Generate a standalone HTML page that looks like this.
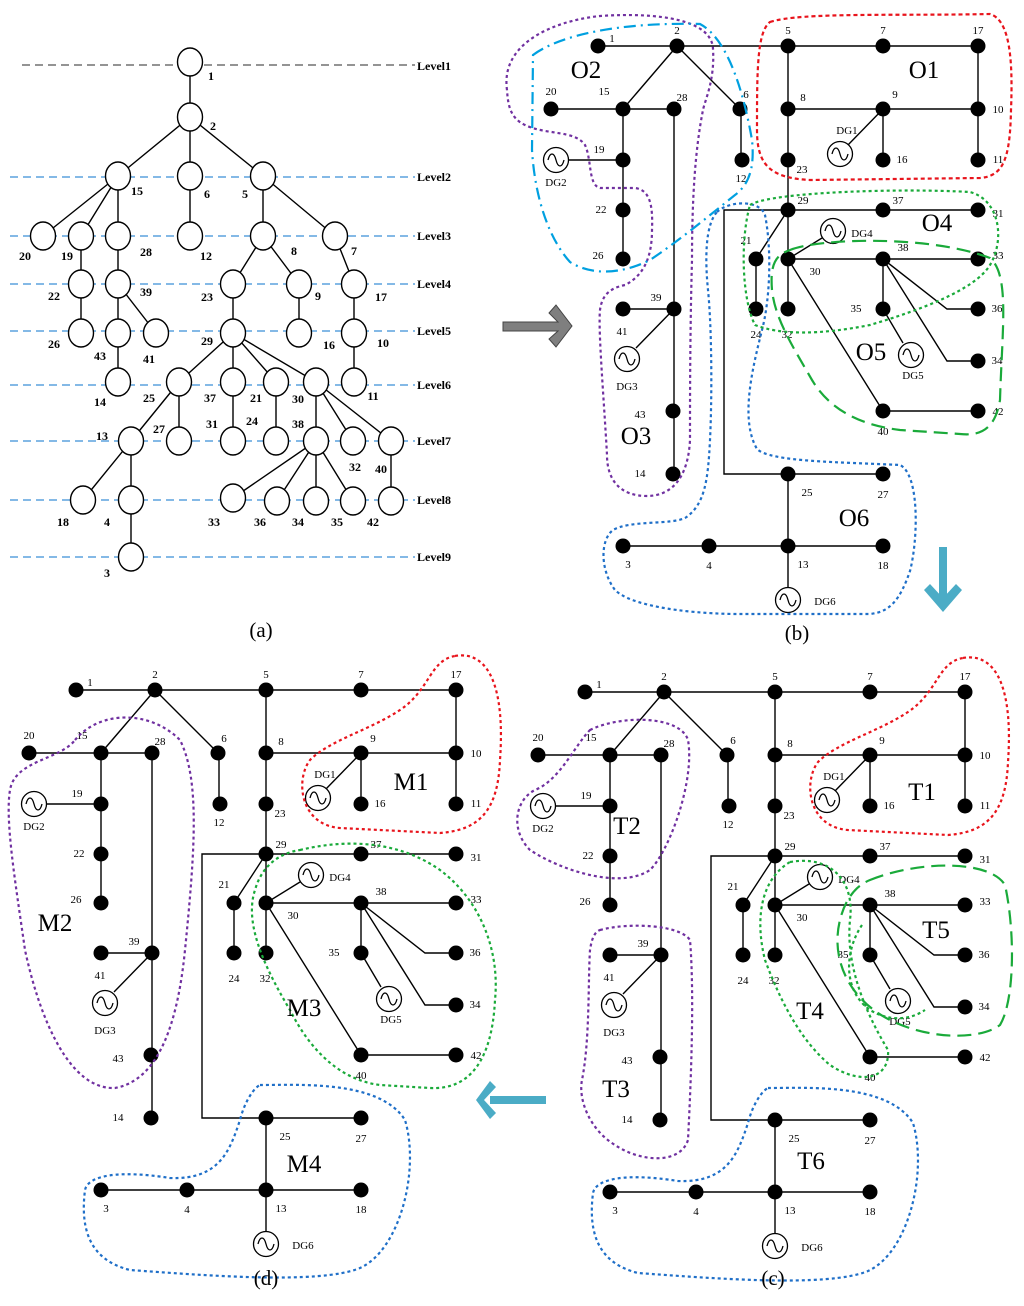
<!DOCTYPE html>
<html><head><meta charset="utf-8"><style>
html,body{margin:0;padding:0;background:#fff}
svg{display:block}
text{font-family:"Liberation Serif",serif}
</style></head><body>
<svg width="1024" height="1306" viewBox="0 0 1024 1306" xmlns="http://www.w3.org/2000/svg">
<defs>
<g id="dg"><circle r="12.5" fill="#fff" stroke="#000" stroke-width="1.3"/><path d="M-8,0 C-6,-8 -2,-8 0,0 C2,8 6,8 8,0" fill="none" stroke="#000" stroke-width="1.3"/></g>
<g id="net">
 <g stroke="#000" stroke-width="1.4" fill="none">
  <path d="M598,46H978 M677,46L623,109 M677,46L740,109 M551,109H674 M788,109H978 M788,46V309 M741,109V160 M978,46V160 M883,109V160 M883,109L847,146 M623,109V259 M569,160H623 M674,109V474 M623,309H674 M674,309L636,348 M788,210H978 M788,210H724V474H788 M788,210L756,259 M756,259V309 M788,259H978 M788,259L822,238 M883,259V309 M883,309L903,343 M883,259L947,309H978 M883,259L947,361H978 M788,259L883,411H978 M788,474H883 M788,474V588 M623,546H883"/>
 </g>
 <g fill="#000">
  <circle cx="598" cy="46" r="7.5"/><circle cx="677" cy="46" r="7.5"/><circle cx="788" cy="46" r="7.5"/><circle cx="883" cy="46" r="7.5"/><circle cx="978" cy="46" r="7.5"/>
  <circle cx="551" cy="109" r="7.5"/><circle cx="623" cy="109" r="7.5"/><circle cx="674" cy="109" r="7.5"/><circle cx="740" cy="109" r="7.5"/><circle cx="788" cy="109" r="7.5"/><circle cx="883" cy="109" r="7.5"/><circle cx="978" cy="109" r="7.5"/>
  <circle cx="623" cy="160" r="7.5"/><circle cx="742" cy="160" r="7.5"/><circle cx="788" cy="160" r="7.5"/><circle cx="883" cy="160" r="7.5"/><circle cx="978" cy="160" r="7.5"/>
  <circle cx="623" cy="210" r="7.5"/><circle cx="788" cy="210" r="7.5"/><circle cx="883" cy="210" r="7.5"/><circle cx="978" cy="210" r="7.5"/>
  <circle cx="623" cy="259" r="7.5"/><circle cx="756" cy="259" r="7.5"/><circle cx="788" cy="259" r="7.5"/><circle cx="883" cy="259" r="7.5"/><circle cx="978" cy="259" r="7.5"/>
  <circle cx="623" cy="309" r="7.5"/><circle cx="674" cy="309" r="7.5"/><circle cx="756" cy="309" r="7.5"/><circle cx="788" cy="309" r="7.5"/><circle cx="883" cy="309" r="7.5"/><circle cx="978" cy="309" r="7.5"/>
  <circle cx="978" cy="361" r="7.5"/><circle cx="673" cy="411" r="7.5"/><circle cx="883" cy="411" r="7.5"/><circle cx="978" cy="411" r="7.5"/>
  <circle cx="673" cy="474" r="7.5"/><circle cx="788" cy="474" r="7.5"/><circle cx="883" cy="474" r="7.5"/>
  <circle cx="623" cy="546" r="7.5"/><circle cx="709" cy="546" r="7.5"/><circle cx="788" cy="546" r="7.5"/><circle cx="883" cy="546" r="7.5"/>
 </g>
 <use href="#dg" x="556" y="160"/><use href="#dg" x="840" y="154"/><use href="#dg" x="833" y="231"/><use href="#dg" x="627" y="359"/><use href="#dg" x="911" y="355"/><use href="#dg" x="788" y="600"/>
 <g font-size="11" text-anchor="middle" fill="#000">
  <text x="612" y="42">1</text><text x="677" y="34">2</text><text x="788" y="34">5</text><text x="883" y="34">7</text><text x="978" y="34">17</text>
  <text x="551" y="95">20</text><text x="604" y="95">15</text><text x="682" y="101">28</text><text x="746" y="98">6</text><text x="803" y="101">8</text><text x="895" y="98">9</text><text x="998" y="113">10</text>
  <text x="599" y="153">19</text><text x="556" y="186">DG2</text><text x="741" y="182">12</text><text x="802" y="173">23</text><text x="847" y="134">DG1</text><text x="902" y="163">16</text><text x="998" y="163">11</text>
  <text x="601" y="213">22</text><text x="803" y="204">29</text><text x="898" y="204">37</text><text x="998" y="217">31</text>
  <text x="746" y="244">21</text><text x="862" y="237">DG4</text><text x="598" y="259">26</text><text x="815" y="275">30</text><text x="903" y="251">38</text><text x="998" y="259">33</text>
  <text x="656" y="301">39</text><text x="622" y="335">41</text><text x="756" y="338">24</text><text x="787" y="338">32</text><text x="856" y="312">35</text><text x="997" y="312">36</text>
  <text x="627" y="390">DG3</text><text x="913" y="379">DG5</text><text x="997" y="364">34</text>
  <text x="640" y="418">43</text><text x="883" y="435">40</text><text x="998" y="415">42</text>
  <text x="640" y="477">14</text><text x="807" y="496">25</text><text x="883" y="498">27</text>
  <text x="628" y="568">3</text><text x="709" y="569">4</text><text x="803" y="568">13</text><text x="883" y="569">18</text><text x="825" y="605">DG6</text>
 </g>
</g>
</defs>

<!-- Panel (a) -->
<g stroke-dasharray="8,5" stroke-width="1.3">
 <line x1="22" y1="65" x2="415" y2="65" stroke="#555"/>
 <g stroke="#3a8fd8">
 <line x1="10" y1="177" x2="415" y2="177"/><line x1="10" y1="236" x2="415" y2="236"/><line x1="10" y1="284" x2="415" y2="284"/><line x1="10" y1="331" x2="415" y2="331"/><line x1="10" y1="385" x2="415" y2="385"/><line x1="10" y1="441" x2="415" y2="441"/><line x1="10" y1="500" x2="415" y2="500"/><line x1="10" y1="557" x2="415" y2="557"/>
 </g>
</g>
<g font-size="12" font-weight="bold" fill="#000">
 <text x="417" y="70">Level1</text><text x="417" y="181">Level2</text><text x="417" y="240">Level3</text><text x="417" y="288">Level4</text><text x="417" y="335">Level5</text><text x="417" y="389">Level6</text><text x="417" y="445">Level7</text><text x="417" y="504">Level8</text><text x="417" y="561">Level9</text>
</g>
<path stroke="#000" stroke-width="1.4" fill="none" d="M190,62L190,117 M190,117L118,176 M190,117L190,176 M190,117L263,176 M118,176L43,236 M118,176L81,236 M118,176L118,236 M190,176L190,236 M263,176L263,236 M263,176L335,236 M81,236L81,333 M118,236L118,284 M118,284L118,382 M118,284L156,333 M263,236L233,284 M263,236L299,284 M335,236L354,284 M233,284L233,333 M299,284L299,333 M354,284L354,382 M233,333L179,382 M233,333L233,382 M233,333L276,382 M233,333L316,382 M179,382L131,441 M179,382L179,441 M233,382L233,441 M276,382L276,441 M316,382L316,441 M316,382L353,441 M316,382L391,441 M131,441L83,500 M131,441L131,557 M316,441L233,498 M316,441L277,501 M316,441L316,501 M316,441L353,501 M391,441L391,501"/>
<g fill="#fff" stroke="#000" stroke-width="1.4">
 <ellipse cx="190" cy="62" rx="12.5" ry="14"/><ellipse cx="190" cy="117" rx="12.5" ry="14"/>
 <ellipse cx="118" cy="176" rx="12.5" ry="14"/><ellipse cx="190" cy="176" rx="12.5" ry="14"/><ellipse cx="263" cy="176" rx="12.5" ry="14"/>
 <ellipse cx="43" cy="236" rx="12.5" ry="14"/><ellipse cx="81" cy="236" rx="12.5" ry="14"/><ellipse cx="118" cy="236" rx="12.5" ry="14"/><ellipse cx="190" cy="236" rx="12.5" ry="14"/><ellipse cx="263" cy="236" rx="12.5" ry="14"/><ellipse cx="335" cy="236" rx="12.5" ry="14"/>
 <ellipse cx="81" cy="284" rx="12.5" ry="14"/><ellipse cx="118" cy="284" rx="12.5" ry="14"/><ellipse cx="233" cy="284" rx="12.5" ry="14"/><ellipse cx="299" cy="284" rx="12.5" ry="14"/><ellipse cx="354" cy="284" rx="12.5" ry="14"/>
 <ellipse cx="81" cy="333" rx="12.5" ry="14"/><ellipse cx="118" cy="333" rx="12.5" ry="14"/><ellipse cx="156" cy="333" rx="12.5" ry="14"/><ellipse cx="233" cy="333" rx="12.5" ry="14"/><ellipse cx="299" cy="333" rx="12.5" ry="14"/><ellipse cx="354" cy="333" rx="12.5" ry="14"/>
 <ellipse cx="118" cy="382" rx="12.5" ry="14"/><ellipse cx="179" cy="382" rx="12.5" ry="14"/><ellipse cx="233" cy="382" rx="12.5" ry="14"/><ellipse cx="276" cy="382" rx="12.5" ry="14"/><ellipse cx="316" cy="382" rx="12.5" ry="14"/><ellipse cx="354" cy="382" rx="12.5" ry="14"/>
 <ellipse cx="131" cy="441" rx="12.5" ry="14"/><ellipse cx="179" cy="441" rx="12.5" ry="14"/><ellipse cx="233" cy="441" rx="12.5" ry="14"/><ellipse cx="276" cy="441" rx="12.5" ry="14"/><ellipse cx="316" cy="441" rx="12.5" ry="14"/><ellipse cx="353" cy="441" rx="12.5" ry="14"/><ellipse cx="391" cy="441" rx="12.5" ry="14"/>
 <ellipse cx="83" cy="500" rx="12.5" ry="14"/><ellipse cx="131" cy="500" rx="12.5" ry="14"/><ellipse cx="233" cy="498" rx="12.5" ry="14"/><ellipse cx="277" cy="501" rx="12.5" ry="14"/><ellipse cx="316" cy="501" rx="12.5" ry="14"/><ellipse cx="353" cy="501" rx="12.5" ry="14"/><ellipse cx="391" cy="501" rx="12.5" ry="14"/>
 <ellipse cx="131" cy="557" rx="12.5" ry="14"/>
</g>
<g font-size="12" font-weight="bold" text-anchor="middle" fill="#000">
 <text x="211" y="80">1</text><text x="213" y="130">2</text><text x="137" y="195">15</text><text x="207" y="198">6</text><text x="245" y="198">5</text>
 <text x="25" y="260">20</text><text x="67" y="260">19</text><text x="146" y="256">28</text><text x="206" y="260">12</text><text x="294" y="255">8</text><text x="354" y="255">7</text>
 <text x="54" y="300">22</text><text x="146" y="296">39</text><text x="207" y="301">23</text><text x="318" y="300">9</text><text x="381" y="301">17</text>
 <text x="54" y="348">26</text><text x="100" y="360">43</text><text x="149" y="363">41</text><text x="207" y="345">29</text><text x="329" y="349">16</text><text x="383" y="347">10</text>
 <text x="100" y="406">14</text><text x="149" y="402">25</text><text x="210" y="402">37</text><text x="256" y="402">21</text><text x="298" y="403">30</text><text x="373" y="400">11</text>
 <text x="102" y="440">13</text><text x="159" y="433">27</text><text x="212" y="428">31</text><text x="252" y="425">24</text><text x="298" y="428">38</text><text x="355" y="471">32</text><text x="381" y="473">40</text>
 <text x="63" y="526">18</text><text x="107" y="526">4</text><text x="214" y="526">33</text><text x="260" y="526">36</text><text x="298" y="526">34</text><text x="337" y="526">35</text><text x="373" y="526">42</text>
 <text x="107" y="577">3</text>
</g>

<!-- networks -->
<use href="#net"/>
<use href="#net" transform="translate(-13,646)"/>
<use href="#net" transform="translate(-522,644)"/>

<!-- (b) regions -->
<g fill="none" stroke-width="2.2">
 <path stroke="#e8141c" stroke-dasharray="4,3" d="M770,22 C800,12 900,16 990,14 C1010,20 1013,60 1011,110 C1010,160 1003,176 980,178 L810,180 C770,178 757,165 757,130 C757,70 757,32 770,22 Z"/>
 <path stroke="#7030a0" stroke-dasharray="3,3" d="M507,90 C500,40 560,20 600,16 C660,12 712,20 713,49 C715,80 705,100 703,110 C695,150 692,200 692,260 C690,330 690,400 690,440 C688,480 670,496 647,496 C620,496 607,480 607,455 C604,400 598,330 600,310 C602,295 610,288 625,285 C645,275 652,255 652,230 C653,205 650,190 635,188 L600,188 C588,185 592,160 585,145 C575,130 545,135 525,125 C510,118 508,105 507,90 Z"/>
 <path stroke="#00a0e0" stroke-dasharray="12,5,2,5" d="M533,55 C560,35 620,22 700,24 C730,40 745,100 752,140 C755,170 748,185 735,195 C710,215 680,240 650,260 C620,275 590,275 570,262 C550,240 535,200 532,150 Z"/>
 <path stroke="#1f6fc8" stroke-dasharray="3,3" d="M717,212 C730,200 760,200 765,215 C772,250 770,300 762,330 C752,370 740,420 757,449 C770,462 840,462 900,465 C920,475 918,540 910,571 C900,600 890,612 870,614 L733,614 C680,613 630,605 615,590 C600,570 600,540 613,530 C630,520 670,525 685,518 C705,505 708,480 710,440 C712,400 712,330 708,290 C705,260 705,225 717,212 Z"/>
 <path stroke="#1aaa3a" stroke-dasharray="3,3" d="M750,205 C770,192 900,188 970,192 C1000,200 1005,240 990,265 C975,290 920,310 870,325 C820,335 780,335 755,325 C742,300 740,240 750,205 Z"/>
 <path stroke="#1aaa3a" stroke-dasharray="14,7" d="M790,250 C820,238 930,235 990,258 C1010,275 1002,330 1000,400 C995,430 980,436 960,434 L900,430 C860,425 830,410 812,380 C795,350 775,320 772,290 C770,265 775,255 790,250 Z"/>
</g>
<!-- (d) regions -->
<g fill="none" stroke-width="2.2" stroke-dasharray="3,3">
 <path id="m1" stroke="#e8141c" d="M455,656 C490,650 505,690 500,760 C498,810 480,830 440,833 L340,828 C300,825 295,780 310,760 C330,740 370,730 400,710 C430,690 430,660 455,656 Z"/>
 <path stroke="#7030a0" d="M75,740 C100,710 150,710 180,740 C200,780 195,850 185,950 C178,1020 160,1080 115,1088 C70,1090 40,1020 25,950 C15,880 5,820 10,790 C15,760 60,760 75,740 Z"/>
 <path stroke="#1aaa3a" d="M300,850 C350,838 400,842 440,870 C480,900 500,950 495,1000 C492,1060 470,1090 430,1088 L380,1085 C340,1080 310,1050 290,1010 C260,960 245,920 255,890 C262,865 280,853 300,850 Z"/>
 <path stroke="#1f6fc8" d="M260,1085 C300,1085 380,1080 405,1120 C420,1170 400,1250 360,1268 C320,1285 200,1275 130,1270 C90,1260 80,1230 85,1190 C88,1175 120,1170 170,1178 C220,1180 230,1150 240,1120 C245,1100 255,1087 260,1085 Z"/>
</g>
<!-- (c) regions -->
<g fill="none" stroke-width="2.2" stroke-dasharray="3,3">
 <path stroke="#e8141c" transform="translate(508,2)" d="M455,656 C490,650 505,690 500,760 C498,810 480,830 440,833 L340,828 C300,825 295,780 310,760 C330,740 370,730 400,710 C430,690 430,660 455,656 Z"/>
 <path stroke="#1f6fc8" transform="translate(508,3)" d="M260,1085 C300,1085 380,1080 405,1120 C420,1170 400,1250 360,1268 C320,1285 200,1275 130,1270 C90,1260 80,1230 85,1190 C88,1175 120,1170 170,1178 C220,1180 230,1150 240,1120 C245,1100 255,1087 260,1085 Z"/>
 <path stroke="#7030a0" d="M590,730 C620,715 680,715 688,740 C695,780 670,850 650,870 C620,890 560,870 530,850 C510,830 515,800 535,790 C560,780 575,745 590,730 Z"/>
 <path stroke="#7030a0" d="M600,930 C630,922 680,925 690,940 C695,1000 690,1100 688,1140 C680,1165 640,1162 615,1145 C590,1130 578,1100 582,1080 C590,1040 588,980 590,950 C592,937 595,932 600,930 Z"/>
 <path stroke="#1aaa3a" d="M790,862 C830,855 855,880 850,920 C845,970 870,1020 888,1050 C890,1080 860,1085 830,1065 C800,1040 780,1000 765,960 C755,920 760,880 790,862 Z"/>
 <path stroke="#1aaa3a" d="M862,925 C845,950 842,990 870,1010 C890,1022 910,1020 925,1010"/>
 <path stroke="#1aaa3a" stroke-dasharray="14,7" d="M870,880 C920,860 990,860 1005,885 C1015,930 1015,1000 1000,1025 C980,1040 930,1040 890,1020 C850,1000 830,960 840,920 C845,900 855,886 870,880 Z"/>
</g>

<!-- region labels -->
<g font-size="25" text-anchor="middle" fill="#000">
 <text x="586" y="78">O2</text><text x="924" y="78">O1</text><text x="937" y="231">O4</text><text x="871" y="360">O5</text><text x="636" y="444">O3</text><text x="854" y="526">O6</text>
 <text x="411" y="790">M1</text><text x="55" y="931">M2</text><text x="304" y="1016">M3</text><text x="304" y="1172">M4</text>
 <text x="922" y="800">T1</text><text x="627" y="834">T2</text><text x="616" y="1097">T3</text><text x="810" y="1019">T4</text><text x="936" y="938">T5</text><text x="811" y="1169">T6</text>
</g>
<g font-size="21" text-anchor="middle" fill="#000">
 <text x="261" y="637">(a)</text><text x="797" y="640">(b)</text><text x="773" y="1285">(c)</text><text x="266" y="1285">(d)</text>
</g>

<!-- arrows -->
<path d="M503,322H558L549,313L556,305L572,326L556,347L549,339L558,331H503Z" fill="#7f7f7f" stroke="#444" stroke-width="1"/>
<g fill="#4bacc6">
 <rect x="939" y="547" width="8" height="52"/>
 <path d="M924,590L930,584L943,598L956,584L962,590L943,612Z"/>
 <rect x="490" y="1096" width="56" height="8"/>
 <path d="M490,1081L496,1087L484,1100L496,1113L490,1119L476,1100Z"/>
</g>
</svg>
</body></html>
